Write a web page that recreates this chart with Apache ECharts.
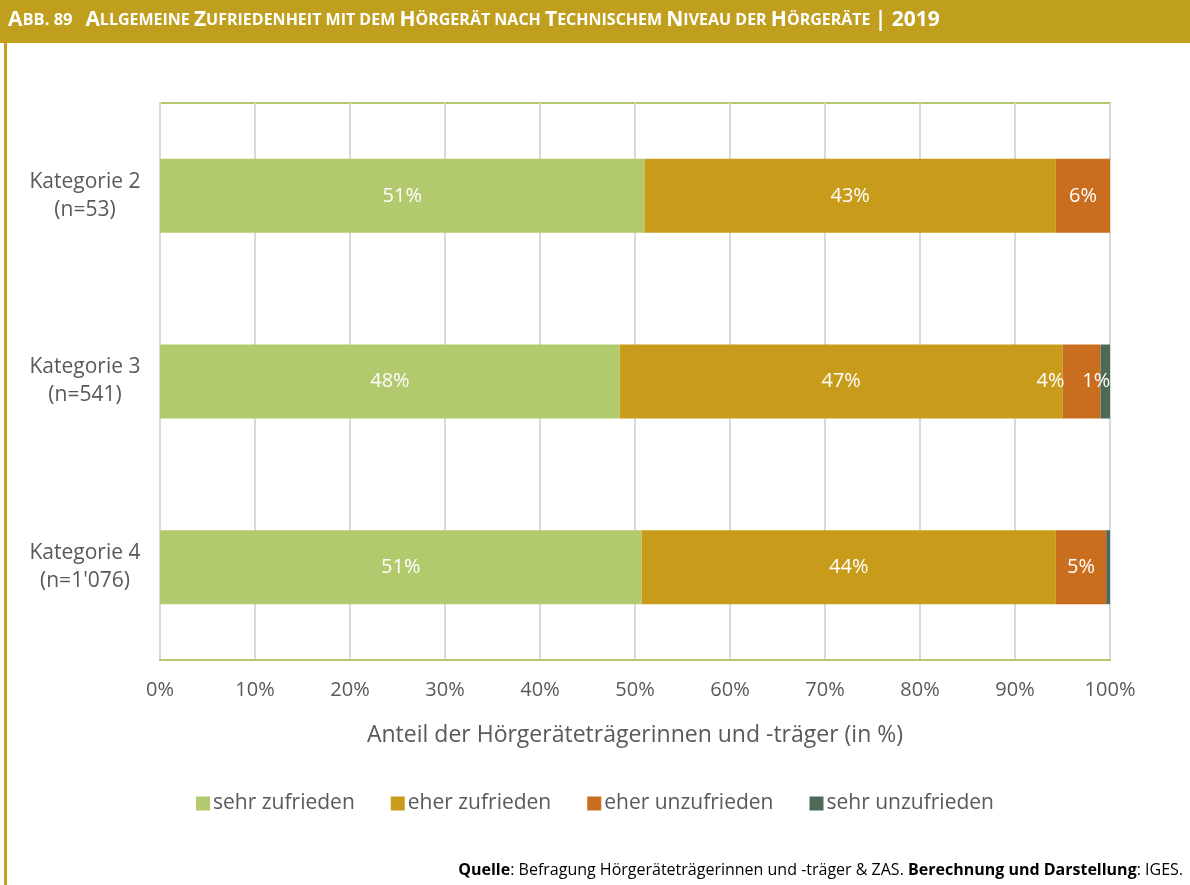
<!DOCTYPE html>
<html><head><meta charset="utf-8">
<script src="https://cdn.jsdelivr.net/npm/echarts@6/dist/echarts.min.js"></script>
<style>html,body{margin:0;padding:0;background:#fff}#c{width:1190px;height:885px}</style>
</head><body><div id="c"></div>
<script>
const categories = ['Kategorie 2\n(n=53)', 'Kategorie 3\n(n=541)', 'Kategorie 4\n(n=1\'076)'];
const seriesNames = ['sehr zufrieden', 'eher zufrieden', 'eher unzufrieden', 'sehr unzufrieden'];
const sehrZufrieden = [51.0, 48.4, 50.7];
const eherZufrieden = [43.3, 46.6, 43.6];
const eherUnzufrieden = [5.7, 4.0, 5.3];
const sehrUnzufrieden = [0, 1.0, 0.4];
const xTicks = [0, 10, 20, 30, 40, 50, 60, 70, 80, 90, 100];
const colors = ['#B2C96E', '#C89C1A', '#C96E1F', '#4E6956'];
const FONT = 'Open Sans';

const chart = echarts.init(document.getElementById('c'), null, {renderer: 'canvas'});

const labelBase = {show: true, color: '#fff', fontSize: 20, fontFamily: FONT,
  formatter: p => (p.value >= 0.9 ? Math.round(p.value) + '%' : '')};

function mk(name, arr, idx, special) {
  return {
    name, type: 'bar', stack: 'a', barWidth: 74,
    itemStyle: {color: colors[idx]},
    label: Object.assign({position: 'inside'}, labelBase),
    data: arr.map((v, i) => {
      if (special && special[i]) return {value: v, label: special[i]};
      return v;
    })
  };
}

const titleParts = [['A','B'],['BB. 89   ','b'],['A','B'],['LLGEMEINE ','s'],['Z','B'],['UFRIEDENHEIT MIT DEM ','s'],['H','B'],['ÖRGERÄT NACH ','s'],['T','B'],['ECHNISCHEM ','s'],['N','B'],['IVEAU DER ','s'],['H','B'],['ÖRGERÄTE ','s'],['| 2019','B']];
const titleText = titleParts.map(p => '{' + p[1] + '|' + p[0] + '}').join('');

chart.setOption({
  animation: false,
  color: colors,
  grid: {left: 160, right: 80, top: 103, bottom: 225, show: true, borderColor: '#B2C96E', borderWidth: 2, containLabel: false},
  xAxis: {
    type: 'value', min: 0, max: 100, interval: 10,
    axisLabel: {formatter: v => v + '%', color: '#595959', fontSize: 20, fontFamily: FONT, margin: 20},
    splitLine: {lineStyle: {color: '#D9D9D9', width: 2}},
    axisLine: {show: true, lineStyle: {color: '#B2C96E', width: 2}},
    axisTick: {show: false},
    name: 'Anteil der Hörgeräteträgerinnen und -träger (in %)',
    nameLocation: 'middle', nameGap: 64,
    nameTextStyle: {color: '#595959', fontSize: 23, fontFamily: FONT}
  },
  yAxis: {
    type: 'category', data: categories, inverse: true,
    axisLine: {show: true, lineStyle: {color: '#D9D9D9', width: 2}},
    axisTick: {show: false},
    axisLabel: {color: '#595959', fontSize: 21, fontFamily: FONT, lineHeight: 28, margin: 75, align: 'center', padding: [5, 0, 0, 0]},
  },
  legend: {
    bottom: 66, left: 'center', itemWidth: 14, itemHeight: 14, itemGap: 36,
    icon: 'rect',
    textStyle: {color: '#595959', fontSize: 21, fontFamily: FONT, padding: [0, 0, 0, -2]},
    data: seriesNames
  },
  series: [
    mk(seriesNames[0], sehrZufrieden, 0),
    mk(seriesNames[1], eherZufrieden, 1),
    mk(seriesNames[2], eherUnzufrieden, 2, {1: Object.assign({}, labelBase, {position: 'inside', offset: [-31, 0]})}),
    mk(seriesNames[3], sehrUnzufrieden, 3, {1: Object.assign({}, labelBase, {position: 'inside', offset: [-9, 0]})})
  ],
  graphic: [
    {type: 'rect', left: 0, top: 0, shape: {width: 1190, height: 43}, style: {fill: '#C19F1E'}, z: 10},
    {type: 'rect', left: 4, top: 43, shape: {width: 3, height: 842}, style: {fill: '#C5A01E'}, z: 10},
    {type: 'text', left: 8, top: 10, z: 11,
      style: {text: titleText, rich: {
        B: {fontFamily: FONT, fontWeight: 'bold', fontSize: 21, fill: '#fff'},
        b: {fontFamily: FONT, fontWeight: 'bold', fontSize: 16.5, fill: '#fff'},
        s: {fontFamily: FONT, fontWeight: 'bold', fontSize: 16, fill: '#fff'}
      }}},
    {type: 'text', right: 7, top: 862, z: 11,
      style: {text: '{b|Quelle}{n|: Befragung Hörgeräteträgerinnen und -träger & ZAS. }{b|Berechnung und Darstellung}{n|: IGES.}',
        rich: {
          b: {fontFamily: FONT, fontWeight: 'bold', fontSize: 16, fill: '#000'},
          n: {fontFamily: FONT, fontSize: 16, fill: '#000'}
        }}}
  ]
});
</script></body></html>
